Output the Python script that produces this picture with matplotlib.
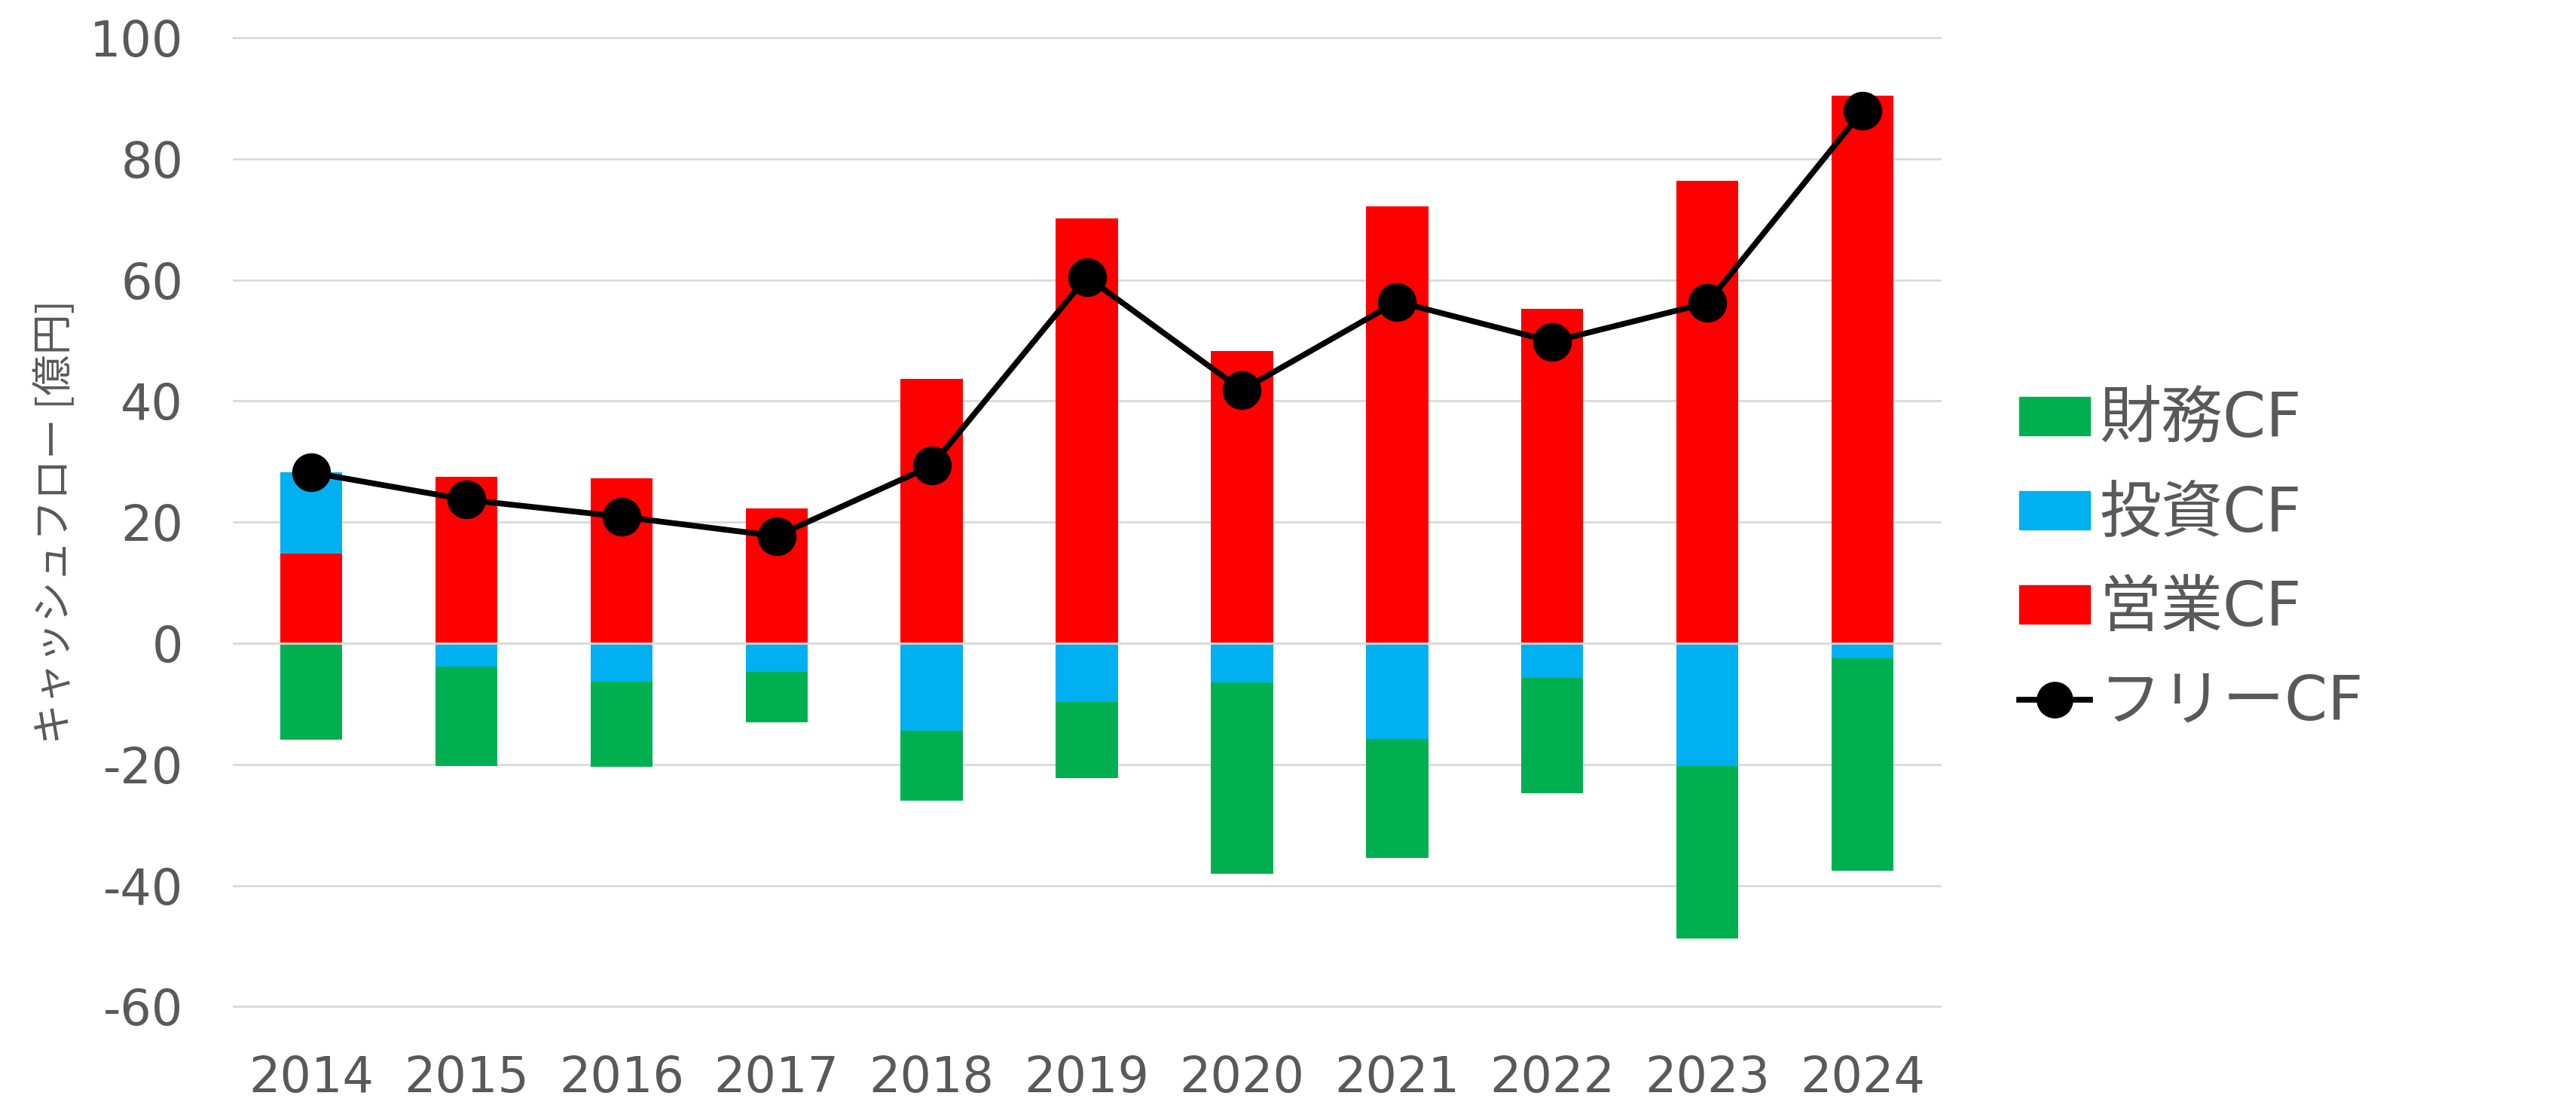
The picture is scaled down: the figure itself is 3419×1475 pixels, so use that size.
import numpy as np
import matplotlib
matplotlib.use("Agg")
import matplotlib.pyplot as plt
from matplotlib.patches import Patch
from matplotlib.lines import Line2D

plt.rcParams['font.family'] = ['DejaVu Sans', 'Noto Sans CJK JP']
plt.rcParams['axes.unicode_minus'] = False

# ---- data (億円) ----
years = ['2014', '2015', '2016', '2017', '2018', '2019', '2020', '2021', '2022', '2023', '2024']
op_cf = [14.8, 27.5, 27.2, 22.3, 43.7, 70.2, 48.2, 72.1, 55.2, 76.4, 90.4]        # 営業CF
inv_cf = [13.4, -3.8, -6.3, -4.7, -14.4, -9.7, -6.5, -15.8, -5.7, -20.3, -2.5]   # 投資CF
fin_cf = [-15.9, -16.5, -14.1, -8.4, -11.6, -12.6, -31.5, -19.6, -19.1, -28.5, -35.1]  # 財務CF
free_cf = [28.2, 23.7, 20.9, 17.7, 29.3, 60.5, 41.8, 56.4, 49.8, 56.2, 87.9]     # フリーCF

yticks = [-60, -40, -20, 0, 20, 40, 60, 80, 100]

TEXT = '#595959'
GRID = '#d9d9d9'
colors = {'営業CF': '#FF0000', '投資CF': '#00B0F0', '財務CF': '#00B050'}

fig = plt.figure(figsize=(34.19, 14.75), dpi=100)
ax = fig.add_axes([310 / 3419, 1 - 1336.4 / 1475, (2575 - 310) / 3419, (1336.4 - 50) / 1475])

x = np.arange(len(years))
pos_base = np.zeros(len(years))
neg_base = np.zeros(len(years))

# stacked bars: positives stack up from 0, negatives stack down
for name, vals in [('営業CF', op_cf), ('投資CF', inv_cf), ('財務CF', fin_cf)]:
    v = np.array(vals)
    bottom = np.where(v >= 0, pos_base, neg_base)
    ax.bar(x, v, width=0.4, bottom=bottom, color=colors[name], zorder=2)
    pos_base = pos_base + np.where(v >= 0, v, 0)
    neg_base = neg_base + np.where(v < 0, v, 0)

# zero line drawn over the bars
ax.axhline(0, color=GRID, lw=2, zorder=2.5)

ax.plot(x, free_cf, color='black', lw=5.5, marker='o', markersize=36, zorder=3)

ax.set_xlim(-0.5, len(years) - 0.5)
ax.set_ylim(-60, 100)
ax.set_yticks(yticks)
ax.set_xticks(x)
ax.set_xticklabels(years)
ax.yaxis.grid(True, color=GRID, lw=2)
for gl in ax.get_ygridlines():
    gl.set_clip_on(False)
ax.set_axisbelow(True)
for s in ax.spines.values():
    s.set_visible(False)
ax.tick_params(length=0, labelsize=47, labelcolor=TEXT)
ax.tick_params(axis='y', pad=48)
ax.tick_params(axis='x', pad=46)

ax.set_ylabel('キャッシュフロー [億円]', fontsize=39, family=['Noto Sans CJK JP'], color=TEXT)
ax.yaxis.set_label_coords(-0.092, 0.5)

# legend (order as in the reference)
handles = [Patch(color=colors['財務CF']), Patch(color=colors['投資CF']), Patch(color=colors['営業CF']),
           Line2D([], [], color='black', lw=5.5, marker='o', markersize=34)]
labels = ['財務CF', '投資CF', '営業CF', 'フリーCF']
fig.legend(handles, labels, loc='center left', bbox_to_anchor=(2680 / 3419, 1 - 746 / 1475),
           frameon=False, fontsize=59, labelcolor=TEXT, handlelength=1.15, handleheight=0.58,
           handletextpad=0.15, labelspacing=0.56, borderpad=0, borderaxespad=0)

fig.savefig('out.png', dpi=100)
